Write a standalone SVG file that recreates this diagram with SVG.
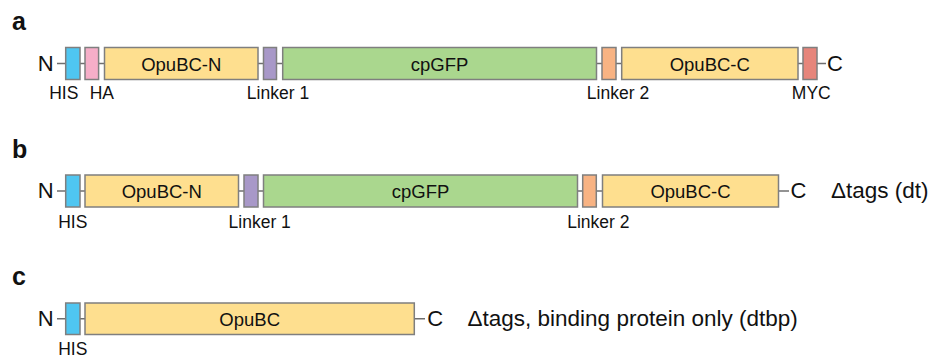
<svg xmlns="http://www.w3.org/2000/svg" width="935" height="358" viewBox="0 0 935 358">
<style>
.box{stroke:#7f7f7f;stroke-width:1.5}
.his{fill:#4fc6f1}.ha{fill:#f6aec8}.opu{fill:#fedf8f}.l1{fill:#a898c8}.gfp{fill:#aad78e}.l2{fill:#f8b383}.myc{fill:#e6857b}
.conn line{stroke:#6f6f6f;stroke-width:1.5}
text{font-family:"Liberation Sans",Arial,Helvetica,sans-serif;fill:#111}
.bt{font-size:18.5px;text-anchor:middle}
.lb{font-size:17.5px;text-anchor:middle}
.term{font-size:22px}
.pl{font-size:25px;font-weight:bold}
.note{font-size:22.5px}
</style>
<rect width="935" height="358" fill="#fff"/>
<g id="connectors" class="conn">
<line x1="57" y1="63.5" x2="826" y2="63.5"/>
<line x1="57" y1="191" x2="789" y2="191"/>
<line x1="57" y1="318.8" x2="425" y2="318.8"/>
</g>
<text class="pl" x="12" y="30">a</text>
<text class="pl" x="12" y="157.5">b</text>
<text class="pl" x="12" y="284.5">c</text>
<g id="rowA">
<text class="term" x="45.8" y="71" text-anchor="middle">N</text>
<g id="a-his"><rect class="box his" x="65.7" y="47.5" width="14.3" height="32"/><text class="lb" x="63.8" y="98.7">HIS</text></g>
<g id="a-ha"><rect class="box ha" x="85" y="47.5" width="13.6" height="32"/><text class="lb" x="101.8" y="98.7">HA</text></g>
<g id="a-opubcn"><rect class="box opu" x="104.5" y="47.5" width="153.5" height="32"/><text class="bt" x="181.3" y="70.5">OpuBC-N</text></g>
<g id="a-linker1"><rect class="box l1" x="263.5" y="47.5" width="13" height="32"/><text class="lb" x="278" y="98.7">Linker 1</text></g>
<g id="a-cpgfp"><rect class="box gfp" x="282.7" y="47.5" width="313.8" height="32"/><text class="bt" x="439.6" y="70.5">cpGFP</text></g>
<g id="a-linker2"><rect class="box l2" x="602" y="47.5" width="14" height="32"/><text class="lb" x="618" y="98.7">Linker 2</text></g>
<g id="a-opubcc"><rect class="box opu" x="621.7" y="47.5" width="176.3" height="32"/><text class="bt" x="709.8" y="70.5">OpuBC-C</text></g>
<g id="a-myc"><rect class="box myc" x="803" y="47.5" width="14" height="32"/><text class="lb" x="811.3" y="98.7">MYC</text></g>
<text class="term" x="827" y="71">C</text>
</g>
<g id="rowB">
<text class="term" x="45.8" y="198.3" text-anchor="middle">N</text>
<g id="b-his"><rect class="box his" x="65.7" y="175" width="14.3" height="32"/><text class="lb" x="72.8" y="227.7">HIS</text></g>
<g id="b-opubcn"><rect class="box opu" x="85" y="175" width="153.5" height="32"/><text class="bt" x="161.8" y="198">OpuBC-N</text></g>
<g id="b-linker1"><rect class="box l1" x="244" y="175" width="14" height="32"/><text class="lb" x="259.7" y="227.7">Linker 1</text></g>
<g id="b-cpgfp"><rect class="box gfp" x="263.5" y="175" width="314" height="32"/><text class="bt" x="420.5" y="198">cpGFP</text></g>
<g id="b-linker2"><rect class="box l2" x="582.7" y="175" width="13.6" height="32"/><text class="lb" x="598.3" y="227.7">Linker 2</text></g>
<g id="b-opubcc"><rect class="box opu" x="602.5" y="175" width="176" height="32"/><text class="bt" x="690.5" y="198">OpuBC-C</text></g>
<text class="term" x="790.5" y="198.3">C</text>
<text class="note" x="831" y="198.3">Δtags (dt)</text>
</g>
<g id="rowC">
<text class="term" x="45.8" y="326" text-anchor="middle">N</text>
<g id="c-his"><rect class="box his" x="65.7" y="303" width="14.3" height="31.5"/><text class="lb" x="72.8" y="355">HIS</text></g>
<g id="c-opubc"><rect class="box opu" x="85" y="303" width="329.3" height="31.5"/><text class="bt" x="249.7" y="325.5">OpuBC</text></g>
<text class="term" x="427.2" y="326">C</text>
<text class="note" x="467.5" y="326">Δtags, binding protein only (dtbp)</text>
</g>
</svg>
